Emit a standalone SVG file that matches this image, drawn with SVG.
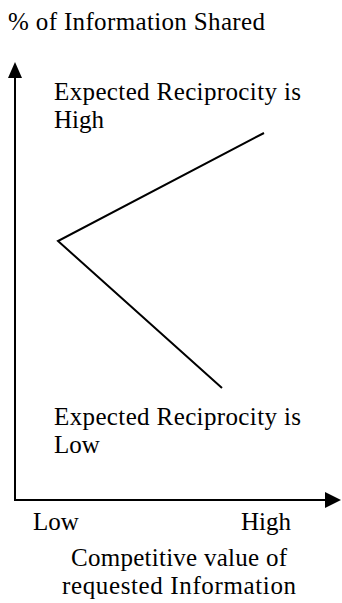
<svg xmlns="http://www.w3.org/2000/svg" width="342" height="603" viewBox="0 0 342 603">
<style>
.t{font-family:'Liberation Serif','DejaVu Serif',serif;font-size:25px;fill:#000}
.ax{stroke:#000;stroke-width:2;fill:none}
.ln{stroke:#000;stroke-width:2;fill:none;stroke-linejoin:miter}
</style>
<rect width="342" height="603" fill="#fff"/>
<g id="axes">
<line class="ax" x1="15" y1="76" x2="15" y2="501"/>
<polygon points="15,62 8,78 22,78" fill="#000"/>
<line class="ax" x1="14" y1="500" x2="327" y2="500"/>
<polygon points="341,500 325,492 325,508" fill="#000"/>
</g>
<g id="connectors">
<polyline class="ln" points="264,133 58,241 222,388"/>
</g>
<g id="y-label"><text class="t" x="8" y="30" textLength="257">% of Information Shared</text></g>
<g id="high-label"><text class="t" x="54" y="100" textLength="247">Expected Reciprocity is</text><text class="t" x="54" y="128">High</text></g>
<g id="low-label"><text class="t" x="54" y="425" textLength="247">Expected Reciprocity is</text><text class="t" x="54" y="453">Low</text></g>
<g id="x-ticks"><text class="t" x="33" y="530">Low</text><text class="t" x="241" y="530">High</text></g>
<g id="x-label"><text class="t" x="71" y="566" textLength="216">Competitive value of</text><text class="t" x="62" y="594" textLength="234">requested Information</text></g>
</svg>
